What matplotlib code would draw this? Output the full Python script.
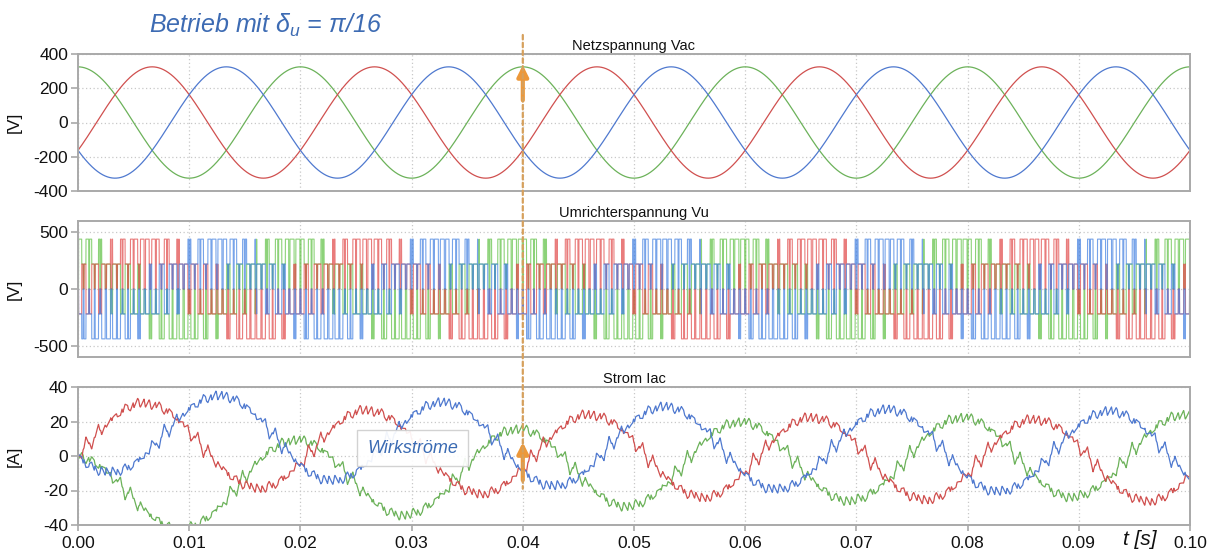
import numpy as np
import matplotlib
matplotlib.use("Agg")
import matplotlib.pyplot as plt
from matplotlib.patches import ConnectionPatch

plt.rcParams["font.family"] = ["Liberation Sans", "DejaVu Sans"]
plt.rcParams["mathtext.fontset"] = "custom"
plt.rcParams["mathtext.rm"] = "Liberation Sans"
plt.rcParams["mathtext.it"] = "Liberation Sans:italic"
plt.rcParams["axes.unicode_minus"] = False

# --- grid and converter parameters -------------------------------------
f_grid = 50.0              # Hz
v_peak = 325.0             # V, grid phase voltage amplitude
delta_u = np.pi / 16       # phase lead of converter voltage
v_dc = 660.0               # V, DC link (levels +-440 / +-220)
f_carrier = 1000.0         # Hz, PWM carrier
L_filter = 8.6e-3          # H
R_filter = 0.19            # Ohm
t_end = 0.10               # s
dt = 2e-6                  # s, simulation step
dt_rec = 2e-5              # s, recording step of the current

# phases: order in which they are drawn
phase_shifts = [0.0, -2 * np.pi / 3, 2 * np.pi / 3]
phase_colors = ["#6cb25a", "#d0504f", "#4f79cf"]
pwm_colors = ["#5cc040", "#e04545", "#3d7de0"]

x_ticks = [0.00, 0.01, 0.02, 0.03, 0.04, 0.05, 0.06, 0.07, 0.08, 0.09, 0.10]
v_ticks = [-400, -200, 0, 200, 400]
vu_ticks = [-500, 0, 500]
i_ticks = [-40, -20, 0, 20, 40]

panel_titles = ["Netzspannung Vac", "Umrichterspannung Vu", "Strom Iac"]
panel_units = ["[V]", "[V]", "[A]"]

t_mark = 0.04
title_text = "Betrieb mit δ$_u$ = π/16"
box_text = "Wirkströme"

# --- simulation ----------------------------------------------------------
w = 2 * np.pi * f_grid
t = np.arange(0.0, t_end + dt / 2, dt)
shifts = np.array(phase_shifts)[:, None]
v_ac = v_peak * np.cos(w * t + shifts)
v_ref = v_peak * np.cos(w * t + shifts + delta_u)
# space-vector modulation (min-max zero-sequence injection)
v_ref = v_ref - 0.5 * (v_ref.max(axis=0) + v_ref.min(axis=0))

ph = (t * f_carrier) % 1.0
carrier = 2 * np.abs(2 * ph - 1) - 1
leg = np.where(v_ref / (v_dc / 2) > carrier, v_dc / 2, -v_dc / 2)
v_u = leg - leg.mean(axis=0)

a = np.exp(-R_filter * dt / L_filter)
b = (1 - a) / R_filter
u = v_u - v_ac
i_ac = np.zeros_like(u)
for k in range(3):
    uk = u[k]
    ik = i_ac[k]
    cur = 0.0
    for n in range(1, len(t)):
        cur = a * cur + b * uk[n - 1]
        ik[n] = cur

rec = int(round(dt_rec / dt))

# --- figure --------------------------------------------------------------
fig = plt.figure(figsize=(12.08, 5.49), dpi=100)
left, width = 78 / 1208, 1112 / 1208
ax1 = fig.add_axes([left, 1 - 191 / 549, width, 137 / 549])
ax2 = fig.add_axes([left, 1 - 357 / 549, width, 136 / 549])
ax3 = fig.add_axes([left, 1 - 525 / 549, width, 138 / 549])
axes = [ax1, ax2, ax3]

spine_col = "#a9a9a9"
for ax, ttl, unit in zip(axes, panel_titles, panel_units):
    ax.set_xlim(0, 0.1)
    ax.set_xticks(x_ticks)
    ax.grid(True, linestyle=(0, (1, 2)), color="#c8c8c8", linewidth=0.9)
    ax.set_axisbelow(True)
    for s in ax.spines.values():
        s.set_color(spine_col)
        s.set_linewidth(1.4)
    ax.tick_params(axis="y", colors=spine_col, labelcolor="#111111",
                   labelsize=12.5, length=5, width=1.2, pad=2)
    ax.tick_params(axis="x", colors=spine_col, labelcolor="#111111",
                   labelsize=12.5, length=4, width=1.2, pad=4)
    ax.set_title(ttl, fontsize=10.5, pad=3, color="#111111")
    ax.set_ylabel(unit, fontsize=12.5, color="#111111", va="center")
    ax.yaxis.set_label_coords(-0.0575, 0.5)

for ax in (ax1, ax2):
    ax.tick_params(axis="x", length=0, labelbottom=False)

ax3.set_xticklabels([f"{v:.2f}" for v in x_ticks])

# grid voltages
for k in range(3):
    ax1.plot(t[::10], v_ac[k, ::10], color=phase_colors[k], lw=0.9)
ax1.set_ylim(-400, 400)
ax1.set_yticks(v_ticks)

# converter voltages
for k in range(3):
    ax2.plot(t, v_u[k], color=pwm_colors[k], lw=0.8, alpha=0.7)
ax2.set_ylim(-600, 600)
ax2.set_yticks(vu_ticks)

# currents
for k in range(3):
    ax3.plot(t[::rec], i_ac[k, ::rec], color=phase_colors[k], lw=0.9)
ax3.set_ylim(-40, 40)
ax3.set_yticks(i_ticks)

# marker at t = 0.04 s
mark_col = "#d6a05c"
con = ConnectionPatch(xyA=(t_mark, 511), coordsA=ax1.transData,
                      xyB=(t_mark, -19), coordsB=ax3.transData,
                      color=mark_col, linestyle=(0, (2, 1.5)), lw=1.6)
fig.add_artist(con)

arrow_col = "#ec983a"
ax1.annotate("", xy=(t_mark, 335), xytext=(t_mark, 130),
             arrowprops=dict(arrowstyle="-|>", color=arrow_col, lw=3,
                             mutation_scale=16, shrinkA=0, shrinkB=0),
             zorder=5, annotation_clip=False)
ax3.annotate("", xy=(t_mark, 8), xytext=(t_mark, -14),
             arrowprops=dict(arrowstyle="-|>", color=arrow_col, lw=3,
                             mutation_scale=16, shrinkA=0, shrinkB=0),
             zorder=5, annotation_clip=False)

ax3.text(0.0301, 4.6, box_text, fontsize=13, style="italic", color="#3b6bb3",
         ha="center", va="center", zorder=6,
         bbox=dict(boxstyle="square,pad=0.55", facecolor="white", alpha=0.92,
                   edgecolor="#cfcfcf", linewidth=1.0))

ax3.annotate("t [s]", xy=(0.0955, -0.108), xycoords=("data", "axes fraction"),
             fontsize=15, style="italic", ha="center", va="center",
             color="#111111", annotation_clip=False)

fig.text(265 / 1208, 1 - 25 / 549, title_text, fontsize=18, style="italic",
         color="#3d6bb3", ha="center", va="center")

fig.savefig("out.png", dpi=100)
